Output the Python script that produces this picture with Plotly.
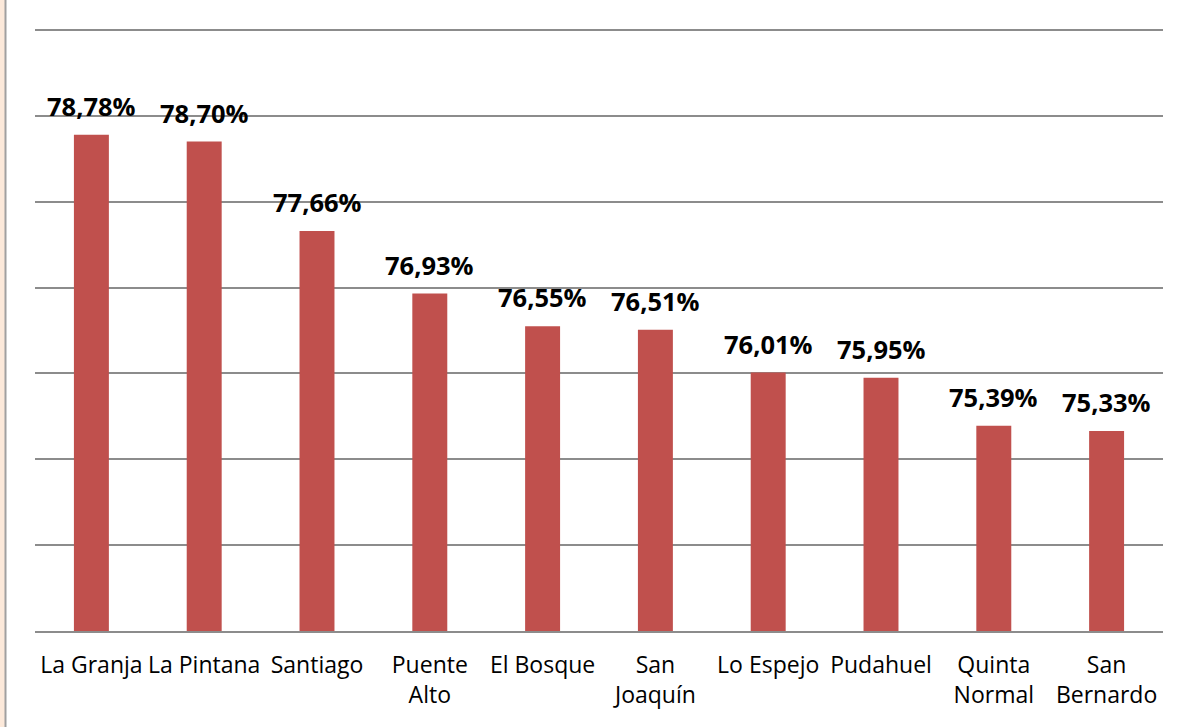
import plotly.graph_objects as go

categories = ["La Granja", "La Pintana", "Santiago", "Puente<br>Alto", "El Bosque",
              "San<br>Joaquín", "Lo Espejo", "Pudahuel", "Quinta<br>Normal", "San<br>Bernardo"]
values = [78.78, 78.70, 77.66, 76.93, 76.55, 76.51, 76.01, 75.95, 75.39, 75.33]
labels = ["78,78%", "78,70%", "77,66%", "76,93%", "76,55%", "76,51%", "76,01%", "75,95%", "75,39%", "75,33%"]

W, H = 1184, 727
ml, mr, mt, mb = 35, 21, 27, 96

fig = go.Figure()
fig.add_trace(go.Bar(x=categories, y=values, width=0.31,
                     marker=dict(color="#C0504D", line=dict(width=0))))

annotations = []
for c, v, t in zip(categories, values, labels):
    annotations.append(dict(x=c, y=v, text="<b>" + t + "</b>", showarrow=False, yanchor="bottom",
                            yshift=10, font=dict(family="Open Sans", size=25.5, color="black")))

pw = W - ml - mr
ph = H - mt - mb
fig.update_layout(
    width=W, height=H,
    margin=dict(l=ml, r=mr, t=mt, b=mb, pad=0, autoexpand=False),
    paper_bgcolor="#FCE9DA",
    plot_bgcolor="rgba(0,0,0,0)",
    showlegend=False,
    annotations=annotations,
    shapes=[dict(type="rect", xref="paper", yref="paper", layer="below",
                 x0=(5.5 - ml) / pw, x1=(W + 10 - ml) / pw,
                 y0=-(H + 10 - mt - ph) / ph, y1=(H - mt - 2) / ph,
                 fillcolor="white", line=dict(color="#A0A0A0", width=2))],
    xaxis=dict(showgrid=False, showline=True, linecolor="#8C8C8C", linewidth=2,
               ticks="", tickfont=dict(family="Open Sans", size=23, color="black"),
               ticklabelstandoff=12, automargin=False),
    yaxis=dict(range=[73, 80.035], tick0=73, dtick=1, showgrid=True, gridcolor="#8C8C8C", gridwidth=2,
               showticklabels=False, zeroline=False, ticks="", automargin=False),
    bargap=0.69,
)
fig.write_html("out.html", config={"displayModeBar": False},
               post_script="document.body.style.margin='0';document.body.style.overflow='hidden';")
